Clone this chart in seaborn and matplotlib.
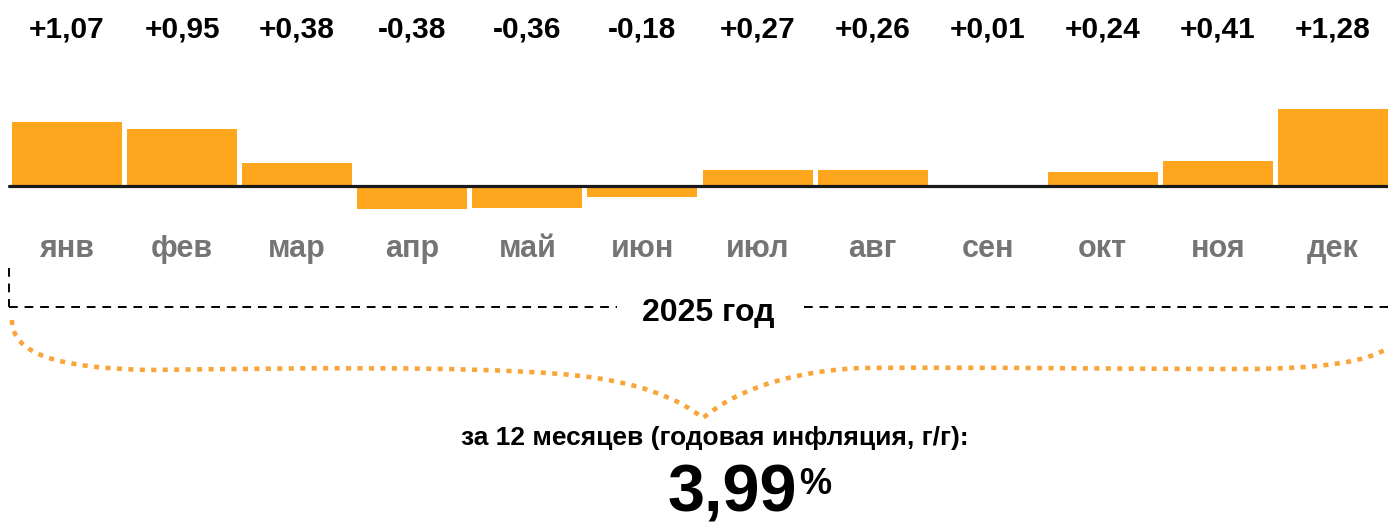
import matplotlib
matplotlib.use("Agg")
import matplotlib.pyplot as plt
import seaborn as sns
import pandas as pd
from matplotlib.path import Path
from matplotlib.patches import PathPatch
from matplotlib.transforms import blended_transform_factory

months = ["янв", "фев", "мар", "апр", "май", "июн", "июл", "авг", "сен", "окт", "ноя", "дек"]
values = [1.07, 0.95, 0.38, -0.38, -0.36, -0.18, 0.27, 0.26, 0.01, 0.24, 0.41, 1.28]
value_labels = ["+1,07", "+0,95", "+0,38", "-0,38", "-0,36", "-0,18", "+0,27", "+0,26", "+0,01", "+0,24", "+0,41", "+1,28"]
year_label = "2025 год"
annual_caption = "за 12 месяцев (годовая инфляция, г/г):"
annual_value = "3,99"

sns.set_theme(style="white")
plt.rcParams["font.family"] = ["Liberation Sans", "DejaVu Sans"]

W, H = 1388, 522
fig = plt.figure(figsize=(W / 100, H / 100), dpi=100)
fig.patch.set_facecolor("white")

ax = fig.add_axes([0, 0, 1, 1])
df = pd.DataFrame({"month": months, "value": values})
sns.barplot(data=df, x="month", y="value", order=months, color="#FFA61F",
            saturation=1, width=0.956, ax=ax, edgecolor="none")

# pixel mapping: first bar centre at 67 px, spacing 115.09 px; baseline at 186 px, 60 px per unit
sp = 115.09
ax.set_xlim((0 - 67) / sp, (W - 67) / sp)
ax.set_ylim(-(H - 186) / 60, 186 / 60)
ax.axis("off")
ax.axhline(0, xmin=9 / W, xmax=1, color="#1a1a1a", lw=2.3, zorder=5)

ov = fig.add_axes([0, 0, 1, 1], facecolor="none")
ov.set_xlim(0, W)
ov.set_ylim(H, 0)
ov.axis("off")

tr = blended_transform_factory(ax.transData, ov.transData)
for i, (m, lab) in enumerate(zip(months, value_labels)):
    ax.text(i, 38, lab, transform=tr, ha="center", va="baseline",
            fontsize=21.5, fontweight="bold", color="black")
    ax.text(i, 257, m, transform=tr, ha="center", va="baseline",
            fontsize=22, fontweight="bold", color="#757575")

# dashed bracket
dash = dict(color="black", lw=1.4, linestyle=(0, (4.5, 3.5)))
ov.plot([9, 9], [268, 307], **dash)
ov.plot([9, 617], [307, 307], **dash)
ov.plot([804, W], [307, 307], **dash)
ov.text(708, 321, year_label, ha="center", va="baseline", fontsize=23,
        fontweight="bold", color="black")

# dotted curly brace
verts = [(12, 320),
         (12, 355), (60, 368), (150, 370),
         (300, 368), (460, 366), (560, 374),
         (640, 380), (680, 400), (703, 418),
         (730, 395), (780, 372), (860, 368),
         (1000, 367), (1120, 369), (1240, 369),
         (1330, 369), (1370, 360), (1388, 348)]
codes = [Path.MOVETO] + [Path.CURVE4] * (len(verts) - 1)
brace = PathPatch(Path(verts, codes), facecolor="none", edgecolor="#F9A53A",
                  lw=3.3, linestyle=(0, (1.1, 1.4)), capstyle="butt")
ov.add_patch(brace)

ov.text(715, 445, annual_caption, ha="center", va="baseline", fontsize=19,
        fontweight="bold", color="black")
ov.text(797, 512, annual_value, ha="right", va="baseline", fontsize=48,
        fontweight="bold", color="black")
ov.text(799, 467, "%", ha="left", va="top", fontsize=26,
        fontweight="bold", color="black")

fig.savefig("out.png", dpi=100, facecolor="white")
